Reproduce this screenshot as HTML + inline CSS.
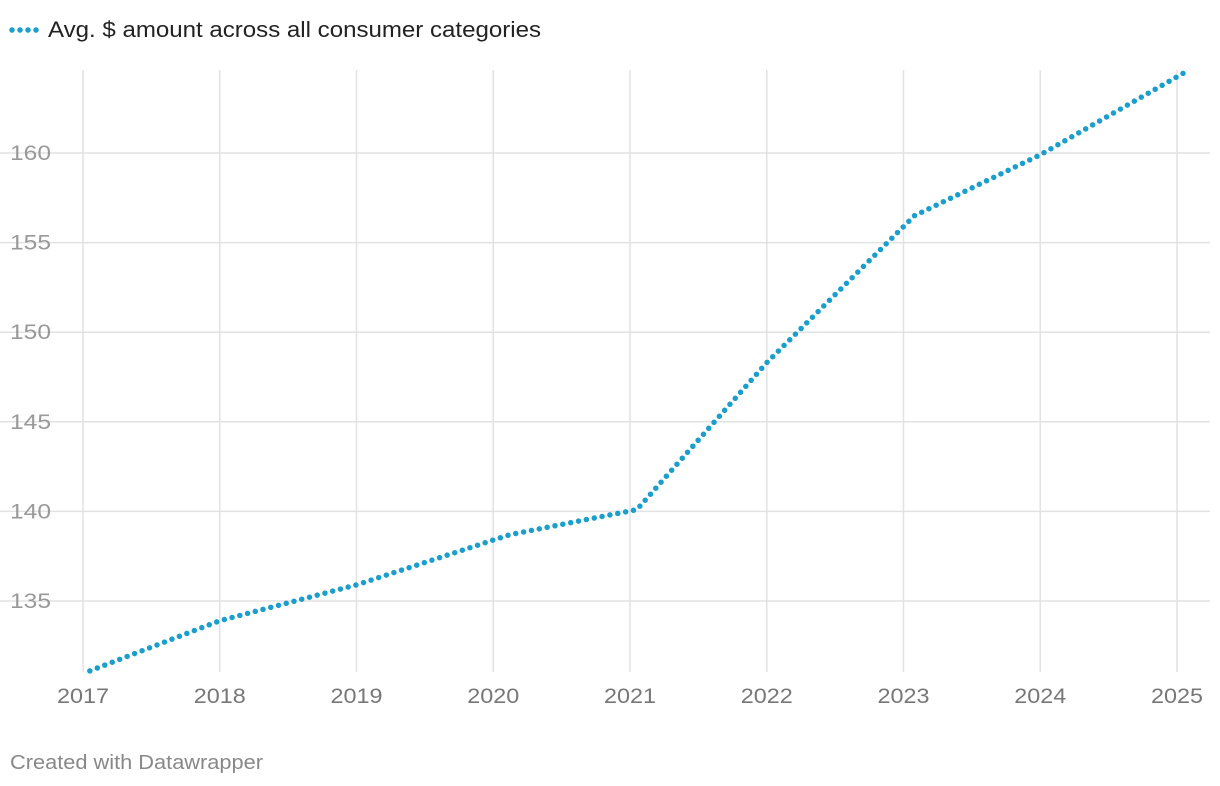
<!DOCTYPE html>
<html><head><meta charset="utf-8"><style>
body{margin:0;background:#fff;font-family:"Liberation Sans",sans-serif;}
svg{display:block}
</style></head><body>
<svg id="chart" width="1220" height="786">
<g id="legend">
<line x1="12" y1="30" x2="38" y2="30" stroke="#1a9ecd" stroke-width="5.5" stroke-linecap="round" stroke-dasharray="0 8"/>
<text x="48" y="37" font-size="22" fill="#222" textLength="493" lengthAdjust="spacingAndGlyphs">Avg. $ amount across all consumer categories</text>
</g>
<g id="grid"></g><g id="ticks"></g><g id="series"></g>
<text x="10" y="769" font-size="20" fill="#888" textLength="253" lengthAdjust="spacingAndGlyphs">Created with Datawrapper</text>
</svg>
<script>
const years = [2017,2018,2019,2020,2021,2022,2023,2024,2025];
const yTicks = [135,140,145,150,155,160];
const pointDates = [2017.05,2018.0,2019.0,2020.12,2021.05,2022.0,2023.08,2024.0,2025.08];
const pointValues = [131.1,133.9,135.9,138.7,140.1,148.3,156.5,159.9,164.6];

const NS="http://www.w3.org/2000/svg";
const xs=v=>83+(v-2017)*(1177-83)/8;
const ys=v=>153+(160-v)*(601-153)/25;
const mk=(t,a,p)=>{const e=document.createElementNS(NS,t);for(const k in a)e.setAttribute(k,a[k]);p.appendChild(e);return e;};
const grid=document.getElementById('grid'),ticks=document.getElementById('ticks'),series=document.getElementById('series');
yTicks.forEach(v=>{
  const l=mk('line',{x1:0,x2:1210,y1:ys(v),y2:ys(v),stroke:'#e2e2e2','stroke-width':1.5},grid);
  
  
  const t=mk('text',{x:10,y:ys(v)+7,'font-size':21,fill:'#999',textLength:41,lengthAdjust:'spacingAndGlyphs'},ticks);t.textContent=v;
  
  
});
years.forEach(v=>{
  const l=mk('line',{x1:xs(v),x2:xs(v),y1:70,y2:672,stroke:'#e2e2e2','stroke-width':1.5},grid);
  
  
  const t=mk('text',{x:xs(v),y:703,'font-size':21,fill:'#777','text-anchor':'middle',textLength:52,lengthAdjust:'spacingAndGlyphs'},ticks);t.textContent=v;
  
  
});
const d=pointDates.map((x,i)=>(i?'L':'M')+xs(x)+','+ys(pointValues[i])).join(' ');
const p=mk('path',{d:d,fill:'none',stroke:'#1a9ecd','stroke-width':5.5,'stroke-linecap':'round','stroke-dasharray':'0 8'},series);


</script>
</body></html>
